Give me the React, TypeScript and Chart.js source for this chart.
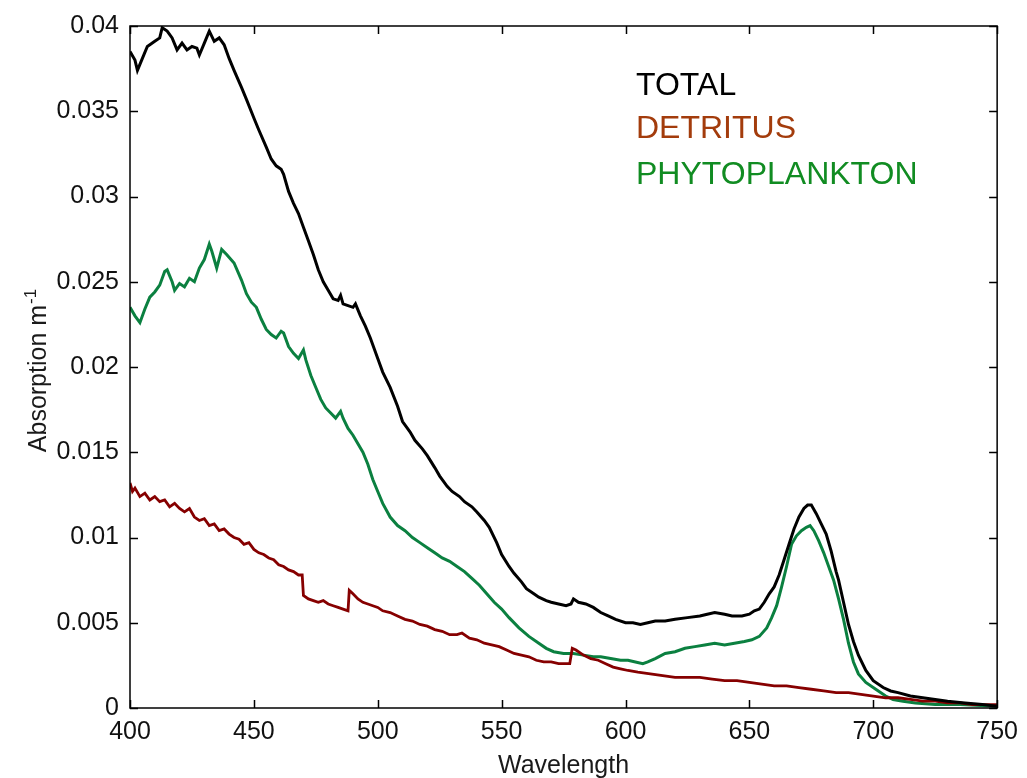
import React, { useEffect, useRef } from "react";
import { Chart, registerables } from "chart.js";

Chart.register(...registerables);

// ---------- DATA ----------
const xTicks = [400, 450, 500, 550, 600, 650, 700, 750];
const yTicks = [0, 0.005, 0.01, 0.015, 0.02, 0.025, 0.03, 0.035, 0.04];

const totalWl = [400, 402, 403, 405, 407, 410, 412, 413, 415, 417, 419, 421, 423, 425, 427, 428, 430, 432, 434, 436, 438, 440, 442, 445, 447, 450, 452, 455, 457, 459, 461, 462, 464, 466, 468, 470, 472, 474, 476, 478, 480, 482, 484, 485, 486, 488, 490, 491, 493, 495, 497, 500, 502, 505, 508, 510, 513, 515, 518, 520, 523, 525, 528, 530, 533, 535, 538, 540, 543, 545, 548, 550, 553, 555, 558, 560, 563, 565, 568, 570, 573, 576, 578, 579, 581, 584, 587, 590, 593, 596, 600, 603, 606, 609, 612, 616, 620, 625, 630, 633, 636, 640, 643, 647, 650, 652, 654, 656, 658, 660, 662, 664, 666, 668, 670, 672, 673.5, 675, 677, 679, 681, 683, 685, 686, 688, 690, 692, 694, 697, 700, 704, 707, 710, 715, 720, 725, 730, 737, 744, 750];
const totalAbs = [0.0385, 0.0380, 0.0374, 0.0381, 0.0388, 0.0391, 0.0393, 0.0399, 0.0397, 0.0393, 0.0386, 0.0390, 0.0386, 0.0388, 0.0387, 0.0383, 0.0390, 0.0397, 0.0391, 0.0393, 0.0389, 0.0381, 0.0374, 0.0364, 0.0357, 0.0346, 0.0339, 0.0329, 0.0322, 0.0318, 0.0316, 0.0313, 0.0303, 0.0296, 0.0290, 0.0282, 0.0274, 0.0266, 0.0257, 0.0250, 0.0245, 0.0240, 0.0239, 0.0242, 0.0237, 0.0236, 0.0235, 0.0237, 0.0230, 0.0224, 0.0217, 0.0205, 0.0197, 0.0188, 0.0177, 0.0168, 0.0162, 0.0157, 0.0152, 0.0148, 0.0141, 0.0136, 0.0130, 0.0127, 0.0124, 0.0121, 0.0118, 0.0115, 0.0110, 0.0106, 0.0097, 0.0090, 0.0083, 0.0079, 0.0074, 0.0070, 0.0067, 0.0065, 0.0063, 0.0062, 0.0061, 0.0060, 0.0061, 0.0064, 0.0062, 0.0061, 0.0059, 0.0056, 0.0054, 0.0052, 0.0050, 0.0050, 0.0049, 0.0050, 0.0051, 0.0051, 0.0052, 0.0053, 0.0054, 0.0055, 0.0056, 0.0055, 0.0054, 0.0054, 0.0055, 0.0057, 0.0058, 0.0062, 0.0067, 0.0071, 0.0078, 0.0087, 0.0096, 0.0105, 0.0112, 0.0117, 0.0119, 0.0119, 0.0114, 0.0108, 0.0102, 0.0092, 0.0080, 0.0075, 0.0062, 0.0049, 0.0039, 0.0031, 0.0022, 0.0016, 0.0012, 0.0010, 0.0009, 0.0007, 0.0006, 0.0005, 0.0004, 0.0003, 0.0002, 0.0001];

const phytoWl = [400, 402, 404, 406, 408, 410, 412, 414, 415, 417, 418, 420, 422, 424, 426, 428, 430, 432, 433, 435, 437, 439, 442, 445, 447, 449, 451, 453, 455, 457, 459, 461, 462, 464, 466, 468, 470, 471, 473, 475, 477, 479, 481, 483, 485, 486, 488, 490, 492, 494, 496, 498, 500, 502, 505, 508, 511, 514, 517, 520, 523, 526, 529, 532, 535, 538, 541, 544, 547, 550, 553, 557, 561, 565, 568, 571, 575, 579, 583, 587, 590, 594, 598, 601, 604, 607, 609, 612, 616, 620, 624, 628, 632, 636, 640, 644, 648, 651, 654, 657, 659, 661, 663, 665, 667, 669, 671, 673, 674.5, 676, 678, 680, 682, 684, 686, 688, 690, 692, 694, 697, 701, 705, 708, 712, 717, 725, 735, 750];
const phytoAbs = [0.0235, 0.0230, 0.0226, 0.0234, 0.0241, 0.0244, 0.0248, 0.0256, 0.0257, 0.0250, 0.0245, 0.0249, 0.0247, 0.0252, 0.0250, 0.0258, 0.0263, 0.0272, 0.0268, 0.0258, 0.0269, 0.0266, 0.0261, 0.0251, 0.0243, 0.0238, 0.0235, 0.0228, 0.0222, 0.0219, 0.0217, 0.0221, 0.0220, 0.0212, 0.0208, 0.0205, 0.0210, 0.0204, 0.0195, 0.0188, 0.0181, 0.0176, 0.0173, 0.0170, 0.0174, 0.0170, 0.0164, 0.0160, 0.0155, 0.0150, 0.0143, 0.0134, 0.0127, 0.0120, 0.0112, 0.0107, 0.0104, 0.0100, 0.0097, 0.0094, 0.0091, 0.0088, 0.0086, 0.0083, 0.0080, 0.0076, 0.0072, 0.0067, 0.0062, 0.0058, 0.0053, 0.0047, 0.0042, 0.0038, 0.0035, 0.0033, 0.0032, 0.0032, 0.0031, 0.0030, 0.0030, 0.0029, 0.0028, 0.0028, 0.0027, 0.0026, 0.0027, 0.0029, 0.0032, 0.0033, 0.0035, 0.0036, 0.0037, 0.0038, 0.0037, 0.0038, 0.0039, 0.0040, 0.0042, 0.0047, 0.0053, 0.0060, 0.0071, 0.0083, 0.0096, 0.0101, 0.0104, 0.0106, 0.0107, 0.0104, 0.0098, 0.0091, 0.0083, 0.0075, 0.0064, 0.0052, 0.0038, 0.0027, 0.0020, 0.0015, 0.0011, 0.0007, 0.0005, 0.0004, 0.0003, 0.0002, 0.0002, 0.0001];

const detritusWl = [400, 401, 402, 404, 406, 408, 410, 412, 414, 416, 418, 420, 422, 424, 426, 428, 430, 432, 434, 436, 438, 440, 442, 444, 446, 448, 450, 452, 454, 456, 458, 460, 462, 464, 466, 468, 469.5, 470, 472, 474, 476, 478, 480, 482, 484, 486, 488, 488.5, 490, 492, 494, 496, 498, 500, 502, 505, 508, 511, 514, 517, 520, 523, 526, 529, 532, 534, 537, 540, 543, 546, 549, 552, 555, 558, 561, 564, 567, 570, 573, 576, 577.5, 578.5, 580, 583, 586, 589, 592, 595, 598, 601, 605, 610, 615, 620, 625, 630, 635, 640, 645, 650, 655, 660, 665, 670, 675, 680, 685, 690, 695, 700, 705, 710, 715, 720, 725, 730, 735, 740, 745, 750];
const detritusAbs = [0.0132, 0.0127, 0.0129, 0.0124, 0.0126, 0.0122, 0.0124, 0.0121, 0.0122, 0.0118, 0.0120, 0.0117, 0.0115, 0.0117, 0.0112, 0.0110, 0.0111, 0.0107, 0.0108, 0.0104, 0.0105, 0.0102, 0.0100, 0.0099, 0.0096, 0.0097, 0.0093, 0.0091, 0.0090, 0.0088, 0.0087, 0.0084, 0.0083, 0.0081, 0.0080, 0.0078, 0.0078, 0.0066, 0.0064, 0.0063, 0.0062, 0.0063, 0.0061, 0.0060, 0.0059, 0.0058, 0.0057, 0.0069, 0.0067, 0.0064, 0.0062, 0.0061, 0.0060, 0.0059, 0.0057, 0.0056, 0.0054, 0.0052, 0.0051, 0.0049, 0.0048, 0.0046, 0.0045, 0.0043, 0.0043, 0.0044, 0.0041, 0.0040, 0.0038, 0.0037, 0.0036, 0.0034, 0.0032, 0.0031, 0.0030, 0.0028, 0.0027, 0.0027, 0.0026, 0.0026, 0.0026, 0.0035, 0.0034, 0.0031, 0.0029, 0.0028, 0.0026, 0.0024, 0.0023, 0.0022, 0.0021, 0.0020, 0.0019, 0.0018, 0.0018, 0.0018, 0.0017, 0.0016, 0.0016, 0.0015, 0.0014, 0.0013, 0.0013, 0.0012, 0.0011, 0.0010, 0.0009, 0.0009, 0.0008, 0.0007, 0.0006, 0.0006, 0.0005, 0.0004, 0.0004, 0.0003, 0.0003, 0.0002, 0.0002, 0.0002];

const legendLabels = ["TOTAL", "DETRITUS", "PHYTOPLANKTON"];
const legendColors = ["#000000", "#a33c0c", "#118c22"];
const xTitle = "Wavelength";
const yTitle = "Absorption m";
const yTitleSup = "-1";

const FONT = '"Liberation Sans", Arial, sans-serif';

function toPoints(xs: number[], ys: number[]) {
  return xs.map((x, i) => ({ x, y: ys[i] }));
}

const framePlugin = {
  id: "frame",
  afterDraw(chart: any) {
    const { ctx, chartArea } = chart;
    const { left, right, top, bottom } = chartArea;
    const xs = chart.scales.x;
    const ys = chart.scales.y;
    const tl = 8;
    ctx.save();
    ctx.strokeStyle = "#000";
    ctx.lineWidth = 1.5;
    ctx.strokeRect(left, top, right - left, bottom - top);
    ctx.beginPath();
    xTicks.forEach((v) => {
      const px = Math.round(xs.getPixelForValue(v)) + 0.5;
      ctx.moveTo(px, bottom);
      ctx.lineTo(px, bottom - tl);
      ctx.moveTo(px, top);
      ctx.lineTo(px, top + tl);
    });
    yTicks.forEach((v) => {
      const py = Math.round(ys.getPixelForValue(v)) + 0.5;
      ctx.moveTo(left, py);
      ctx.lineTo(left + tl, py);
      ctx.moveTo(right, py);
      ctx.lineTo(right - tl, py);
    });
    ctx.stroke();

    // legend texts
    ctx.font = `32px ${FONT}`;
    ctx.textAlign = "left";
    ctx.textBaseline = "alphabetic";
    const lx = 636;
    const lys = [95, 138, 184];
    legendLabels.forEach((t, i) => {
      ctx.fillStyle = legendColors[i];
      ctx.fillText(t, lx, lys[i]);
    });

    // x title
    ctx.fillStyle = "#1a1a1a";
    ctx.font = `25px ${FONT}`;
    ctx.textAlign = "center";
    ctx.fillText(xTitle, (left + right) / 2, 773);

    // y title (rotated, with superscript)
    ctx.save();
    ctx.translate(46, (top + bottom) / 2 + 4);
    ctx.rotate(-Math.PI / 2);
    ctx.font = `25px ${FONT}`;
    const w1 = ctx.measureText(yTitle).width;
    ctx.font = `17px ${FONT}`;
    const w2 = ctx.measureText(yTitleSup).width;
    const start = -(w1 + w2) / 2;
    ctx.textAlign = "left";
    ctx.font = `25px ${FONT}`;
    ctx.fillText(yTitle, start, 0);
    ctx.font = `17px ${FONT}`;
    ctx.fillText(yTitleSup, start + w1 + 1, -10);
    ctx.restore();
    ctx.restore();
  },
};

export default function App() {
  const ref = useRef<HTMLCanvasElement>(null);
  useEffect(() => {
    document.body.style.margin = "0";
    document.body.style.background = "#ffffff";
    const canvas = ref.current!;
    const chart = new Chart(canvas, {
      type: "line",
      data: {
        datasets: [
          {
            label: legendLabels[0],
            data: toPoints(totalWl, totalAbs),
            borderColor: "#000000",
            borderWidth: 3,
            pointRadius: 0,
            tension: 0,
          },
          {
            label: legendLabels[1],
            data: toPoints(detritusWl, detritusAbs),
            borderColor: "#860000",
            borderWidth: 2.8,
            pointRadius: 0,
            tension: 0,
          },
          {
            label: legendLabels[2],
            data: toPoints(phytoWl, phytoAbs),
            borderColor: "#0b8040",
            borderWidth: 3,
            pointRadius: 0,
            tension: 0,
          },
        ],
      },
      options: {
        animation: false,
        responsive: false,
        devicePixelRatio: 1,
        parsing: true,
        layout: { padding: { left: 0, top: 24, right: 29, bottom: 0 } },
        plugins: {
          legend: { display: false },
          tooltip: { enabled: false },
          title: { display: false },
        },
        scales: {
          x: {
            type: "linear",
            min: 400,
            max: 750,
            afterFit: (s: any) => {
              s.height = 70;
            },
            afterBuildTicks: (s: any) => {
              s.ticks = xTicks.map((v) => ({ value: v }));
            },
            grid: { display: false, drawTicks: false },
            border: { display: false },
            ticks: {
              padding: 9,
              color: "#111",
              font: { size: 25, family: FONT },
              maxRotation: 0,
              callback: (v: any) => String(v),
            },
          },
          y: {
            type: "linear",
            min: 0,
            max: 0.04,
            afterFit: (s: any) => {
              s.width = 130;
            },
            afterBuildTicks: (s: any) => {
              s.ticks = yTicks.map((v) => ({ value: v }));
            },
            grid: { display: false, drawTicks: false },
            border: { display: false },
            ticks: {
              padding: 11,
              color: "#111",
              font: { size: 25, family: FONT },
              callback: (v: any) => String(+Number(v).toFixed(3)),
            },
          },
        },
      },
      plugins: [framePlugin],
    });
    return () => chart.destroy();
  }, []);
  return (
    <div style={{ width: 1027, height: 778, background: "#fff" }}>
      <canvas ref={ref} width={1027} height={778} style={{ display: "block" }} />
    </div>
  );
}
